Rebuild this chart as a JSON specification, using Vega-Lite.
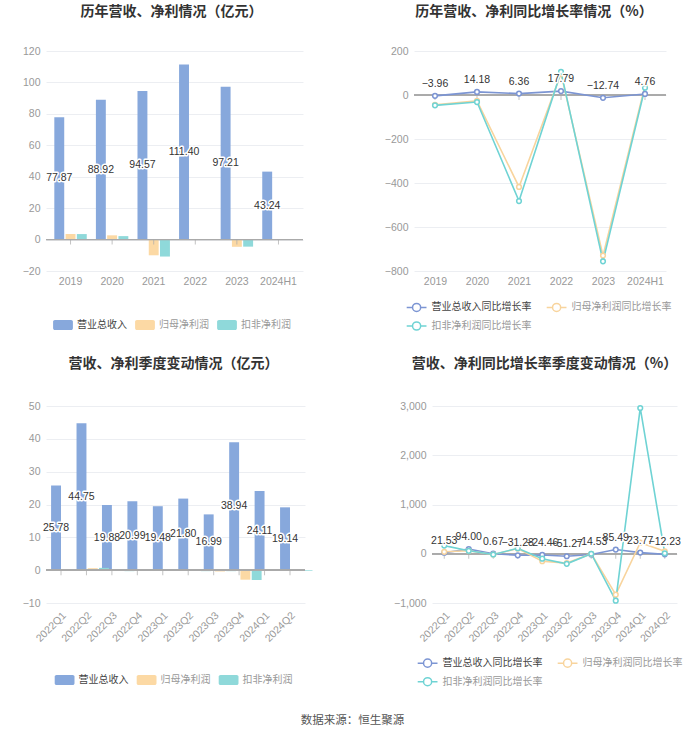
{
  "$schema": "https://vega.github.io/schema/vega-lite/v6.json",
  "background": "white",
  "padding": {"left": 22, "top": 5, "right": 8, "bottom": 8},
  "config": {
    "font": "Liberation Sans, Noto Sans CJK SC",
    "view": {"stroke": null},
    "title": {"font": "Noto Sans CJK SC", "fontSize": 14, "fontWeight": "bold", "color": "#333333", "anchor": "middle"},
    "axis": {"labelFont": "Liberation Sans, Noto Sans CJK SC", "labelFontSize": 10.5, "labelColor": "#999999", "ticks": false, "domain": false, "title": null, "gridColor": "#eceef2", "gridWidth": 1, "labelOverlap": false},
    "axisX": {"grid": false, "labelPadding": 5},
    "axisY": {"labelPadding": 6},
    "legend": {"labelFont": "Noto Sans CJK SC", "labelFontSize": 10, "labelColor": "#666666", "title": null, "orient": "none", "direction": "horizontal", "labelOffset": 5}
  },
  "title": {"text": "数据来源：恒生聚源", "orient": "bottom", "font": "Noto Sans CJK SC", "fontSize": 11.5, "fontWeight": "normal", "color": "#555555", "offset": 25},
  "datasets": {
    "annual": [
      {"year": "2019", "series": "营业总收入", "value": 77.87},
      {"year": "2020", "series": "营业总收入", "value": 88.92},
      {"year": "2021", "series": "营业总收入", "value": 94.57},
      {"year": "2022", "series": "营业总收入", "value": 111.40},
      {"year": "2023", "series": "营业总收入", "value": 97.21},
      {"year": "2024H1", "series": "营业总收入", "value": 43.24},
      {"year": "2019", "series": "归母净利润", "value": 3.6},
      {"year": "2020", "series": "归母净利润", "value": 2.7},
      {"year": "2021", "series": "归母净利润", "value": -10.0},
      {"year": "2022", "series": "归母净利润", "value": -0.3},
      {"year": "2023", "series": "归母净利润", "value": -4.6},
      {"year": "2024H1", "series": "归母净利润", "value": 0.1},
      {"year": "2019", "series": "扣非净利润", "value": 3.5},
      {"year": "2020", "series": "扣非净利润", "value": 2.2},
      {"year": "2021", "series": "扣非净利润", "value": -10.8},
      {"year": "2022", "series": "扣非净利润", "value": -0.1},
      {"year": "2023", "series": "扣非净利润", "value": -4.5},
      {"year": "2024H1", "series": "扣非净利润", "value": -0.1}
    ],
    "annualGrowth": [
      {"year": "2019", "series": "营业总收入同比增长率", "value": -3.96},
      {"year": "2020", "series": "营业总收入同比增长率", "value": 14.18},
      {"year": "2021", "series": "营业总收入同比增长率", "value": 6.36},
      {"year": "2022", "series": "营业总收入同比增长率", "value": 17.79},
      {"year": "2023", "series": "营业总收入同比增长率", "value": -12.74},
      {"year": "2024H1", "series": "营业总收入同比增长率", "value": 4.76},
      {"year": "2019", "series": "归母净利润同比增长率", "value": -45},
      {"year": "2020", "series": "归母净利润同比增长率", "value": -27},
      {"year": "2021", "series": "归母净利润同比增长率", "value": -418},
      {"year": "2022", "series": "归母净利润同比增长率", "value": 97},
      {"year": "2023", "series": "归母净利润同比增长率", "value": -730},
      {"year": "2024H1", "series": "归母净利润同比增长率", "value": 42},
      {"year": "2019", "series": "扣非净利润同比增长率", "value": -47},
      {"year": "2020", "series": "扣非净利润同比增长率", "value": -32},
      {"year": "2021", "series": "扣非净利润同比增长率", "value": -482},
      {"year": "2022", "series": "扣非净利润同比增长率", "value": 105},
      {"year": "2023", "series": "扣非净利润同比增长率", "value": -756},
      {"year": "2024H1", "series": "扣非净利润同比增长率", "value": 33}
    ],
    "quarter": [
      {"q": "2022Q1", "series": "营业总收入", "value": 25.78},
      {"q": "2022Q2", "series": "营业总收入", "value": 44.75},
      {"q": "2022Q3", "series": "营业总收入", "value": 19.88},
      {"q": "2022Q4", "series": "营业总收入", "value": 20.99},
      {"q": "2023Q1", "series": "营业总收入", "value": 19.48},
      {"q": "2023Q2", "series": "营业总收入", "value": 21.80},
      {"q": "2023Q3", "series": "营业总收入", "value": 16.99},
      {"q": "2023Q4", "series": "营业总收入", "value": 38.94},
      {"q": "2024Q1", "series": "营业总收入", "value": 24.11},
      {"q": "2024Q2", "series": "营业总收入", "value": 19.14},
      {"q": "2022Q1", "series": "归母净利润", "value": 0.1},
      {"q": "2022Q2", "series": "归母净利润", "value": 0.6},
      {"q": "2022Q3", "series": "归母净利润", "value": -0.2},
      {"q": "2022Q4", "series": "归母净利润", "value": 0.2},
      {"q": "2023Q1", "series": "归母净利润", "value": 0.05},
      {"q": "2023Q2", "series": "归母净利润", "value": -0.2},
      {"q": "2023Q3", "series": "归母净利润", "value": -0.4},
      {"q": "2023Q4", "series": "归母净利润", "value": -2.9},
      {"q": "2024Q1", "series": "归母净利润", "value": 0.05},
      {"q": "2024Q2", "series": "归母净利润", "value": -0.1},
      {"q": "2022Q1", "series": "扣非净利润", "value": 0.2},
      {"q": "2022Q2", "series": "扣非净利润", "value": 0.7},
      {"q": "2022Q3", "series": "扣非净利润", "value": -0.3},
      {"q": "2022Q4", "series": "扣非净利润", "value": 0.3},
      {"q": "2023Q1", "series": "扣非净利润", "value": 0.0},
      {"q": "2023Q2", "series": "扣非净利润", "value": -0.3},
      {"q": "2023Q3", "series": "扣非净利润", "value": -0.3},
      {"q": "2023Q4", "series": "扣非净利润", "value": -3.0},
      {"q": "2024Q1", "series": "扣非净利润", "value": 0.1},
      {"q": "2024Q2", "series": "扣非净利润", "value": -0.2}
    ],
    "quarterGrowth": [
      {"q": "2022Q1", "series": "营业总收入同比增长率", "value": 21.53},
      {"q": "2022Q2", "series": "营业总收入同比增长率", "value": 94.00},
      {"q": "2022Q3", "series": "营业总收入同比增长率", "value": 0.67},
      {"q": "2022Q4", "series": "营业总收入同比增长率", "value": -31.28},
      {"q": "2023Q1", "series": "营业总收入同比增长率", "value": -24.46},
      {"q": "2023Q2", "series": "营业总收入同比增长率", "value": -51.27},
      {"q": "2023Q3", "series": "营业总收入同比增长率", "value": -14.53},
      {"q": "2023Q4", "series": "营业总收入同比增长率", "value": 85.49},
      {"q": "2024Q1", "series": "营业总收入同比增长率", "value": 23.77},
      {"q": "2024Q2", "series": "营业总收入同比增长率", "value": -12.23},
      {"q": "2022Q1", "series": "归母净利润同比增长率", "value": 40},
      {"q": "2022Q2", "series": "归母净利润同比增长率", "value": 60},
      {"q": "2022Q3", "series": "归母净利润同比增长率", "value": -15},
      {"q": "2022Q4", "series": "归母净利润同比增长率", "value": 105},
      {"q": "2023Q1", "series": "归母净利润同比增长率", "value": -150},
      {"q": "2023Q2", "series": "归母净利润同比增长率", "value": -190},
      {"q": "2023Q3", "series": "归母净利润同比增长率", "value": 0},
      {"q": "2023Q4", "series": "归母净利润同比增长率", "value": -830},
      {"q": "2024Q1", "series": "归母净利润同比增长率", "value": 224},
      {"q": "2024Q2", "series": "归母净利润同比增长率", "value": 50},
      {"q": "2022Q1", "series": "扣非净利润同比增长率", "value": 165},
      {"q": "2022Q2", "series": "扣非净利润同比增长率", "value": 60},
      {"q": "2022Q3", "series": "扣非净利润同比增长率", "value": -15},
      {"q": "2022Q4", "series": "扣非净利润同比增长率", "value": 112},
      {"q": "2023Q1", "series": "扣非净利润同比增长率", "value": -100},
      {"q": "2023Q2", "series": "扣非净利润同比增长率", "value": -204},
      {"q": "2023Q3", "series": "扣非净利润同比增长率", "value": 0},
      {"q": "2023Q4", "series": "扣非净利润同比增长率", "value": -952},
      {"q": "2024Q1", "series": "扣非净利润同比增长率", "value": 2960},
      {"q": "2024Q2", "series": "扣非净利润同比增长率", "value": 10}
    ]
  },
  "resolve": {"scale": {"color": "independent", "stroke": "independent", "x": "independent", "y": "independent"}, "legend": {"color": "independent"}},
  "spacing": 23,
  "vconcat": [
    {
      "spacing": 80,
      "resolve": {"scale": {"color": "independent", "stroke": "independent", "x": "independent", "y": "independent"}, "legend": {"color": "independent"}},
      "hconcat": [
        {
          "width": 257, "height": 220,
          "title": {"text": "历年营收、净利情况（亿元）", "offset": 27, "dx": -3},
          "data": {"name": "annual"},
          "resolve": {"scale": {"y": "independent"}},
          "layer": [
            {
              "encoding": {
                "y": {"field": "value", "type": "quantitative", "scale": {"domain": [-20, 120], "nice": false}, "axis": {"values": [-20, 0, 20, 40, 60, 80, 100, 120], "grid": true, "labelOverlap": false}}
              },
              "layer": [
                {
                  "mark": {"type": "bar"},
                  "encoding": {
                    "x": {"field": "year", "type": "nominal", "sort": null, "scale": {"paddingInner": 0.22}, "axis": {"labelAngle": 0}},
                    "xOffset": {"field": "series", "type": "nominal", "sort": ["营业总收入", "归母净利润", "扣非净利润"], "scale": {"paddingInner": 0.12}},
                    "color": {"field": "series", "type": "nominal", "sort": ["营业总收入", "归母净利润", "扣非净利润"],
                      "scale": {"domain": ["营业总收入", "归母净利润", "扣非净利润"], "range": ["#87a8dc", "#fcd9a4", "#8fd9da"]},
                      "legend": {"legendX": 8, "legendY": 265, "symbolType": "M-0.9,-0.55 H0.9 A0.2,0.2 0 0 1 1.1,-0.35 V0.35 A0.2,0.2 0 0 1 0.9,0.55 H-0.9 A0.2,0.2 0 0 1 -1.1,0.35 V-0.35 A0.2,0.2 0 0 1 -0.9,-0.55 Z", "symbolSize": 324, "symbolStrokeWidth": 0, "columnPadding": 8,
                        "encode": {"labels": {"update": {"fill": {"signal": "datum.value === '营业总收入' ? '#444444' : '#999999'"}}}}}}
                  }
                },
                {"transform": [{"filter": "datum.series === '营业总收入'"}], "mark": {"type": "rule", "color": "#aaaaaa"}, "encoding": {"y": {"datum": 0, "type": "quantitative"}}},
                {
                  "transform": [{"filter": "datum.series === '营业总收入'"}],
                  "mark": {"type": "tick", "orient": "vertical", "size": 5, "thickness": 1, "color": "#aaaaaa", "yOffset": 2.5},
                  "encoding": {"x": {"field": "year", "type": "nominal", "sort": null}, "y": {"datum": 0, "type": "quantitative"}}
                }
              ]
            },
            {
              "transform": [{"filter": "datum.series === '营业总收入'"}],
              "encoding": {
                "x": {"field": "year", "type": "nominal", "sort": null},
                "xOffset": {"field": "series", "type": "nominal", "sort": ["营业总收入", "归母净利润", "扣非净利润"]},
                "y": {"field": "value", "type": "quantitative", "scale": {"domain": [-40, 240], "nice": false}, "axis": null},
                "text": {"field": "value", "type": "quantitative", "format": ".2f"}
              },
              "layer": [
                {"mark": {"type": "text", "fontSize": 10.5, "fill": "white", "stroke": "white", "strokeWidth": 3, "strokeJoin": "round"}},
                {"mark": {"type": "text", "fontSize": 10.5, "fill": "#333333"}}
              ]
            }
          ]
        },
        {
          "width": 252, "height": 220,
          "title": {"text": "历年营收、净利同比增长率情况（%）", "offset": 27, "dx": -6},
          "data": {"name": "annualGrowth"},
          "encoding": {
            "x": {"field": "year", "type": "nominal", "sort": null, "scale": {"type": "point", "padding": 0.5}, "axis": {"labelAngle": 0}},
            "y": {"field": "value", "type": "quantitative", "scale": {"domain": [-800, 200], "nice": false}, "axis": {"values": [-800, -600, -400, -200, 0, 200], "grid": true}}
          },
          "layer": [
            {"mark": {"type": "rule", "color": "#aaaaaa"}, "encoding": {"x": null, "y": {"datum": 0}}},
            {
              "transform": [{"filter": "datum.series === '营业总收入同比增长率'"}],
              "mark": {"type": "tick", "orient": "vertical", "size": 5, "thickness": 1, "color": "#aaaaaa", "yOffset": 2.5},
              "encoding": {"y": {"datum": 0}}
            },
            {
              "mark": {"type": "line", "strokeWidth": 1.6},
              "encoding": {
                "color": {"field": "series", "type": "nominal", "sort": null,
                  "scale": {"domain": ["营业总收入同比增长率", "归母净利润同比增长率", "扣非净利润同比增长率"], "range": ["#7c95d3", "#f8d49d", "#6fd3d4"]},
                  "legend": {"legendX": -7.4, "legendY": 246, "columns": 2, "symbolType": "M-1.1,0 H-0.45 M0.45,0 H1.1 M0.45,0 A0.45,0.45 0 1 1 -0.45,0 A0.45,0.45 0 1 1 0.45,0", "symbolSize": 324, "symbolStrokeWidth": 1.5, "columnPadding": 12, "rowPadding": 1,
                    "encode": {"symbols": {"update": {"fill": {"value": "white"}}}, "labels": {"update": {"fill": {"signal": "datum.value === '营业总收入同比增长率' ? '#444444' : '#999999'"}}}}}
                }
              }
            },
            {
              "mark": {"type": "point", "filled": true, "fill": "white", "size": 22, "strokeWidth": 1.5, "opacity": 1},
              "encoding": {
                "stroke": {"field": "series", "type": "nominal", "scale": {"domain": ["营业总收入同比增长率", "归母净利润同比增长率", "扣非净利润同比增长率"], "range": ["#7c95d3", "#f8d49d", "#6fd3d4"]}, "legend": null}
              }
            },
            {
              "transform": [{"filter": "datum.series === '营业总收入同比增长率'"}],
              "encoding": {"text": {"field": "value", "type": "quantitative", "format": ".2f"}},
              "layer": [
                {"mark": {"type": "text", "fontSize": 10.5, "dy": -12, "fill": "white", "stroke": "white", "strokeWidth": 3, "strokeJoin": "round"}},
                {"mark": {"type": "text", "fontSize": 10.5, "dy": -12, "fill": "#333333"}}
              ]
            }
          ]
        }
      ]
    },
    {
      "spacing": 80,
      "resolve": {"scale": {"color": "independent", "stroke": "independent", "x": "independent", "y": "independent"}, "legend": {"color": "independent"}},
      "hconcat": [
        {
          "width": 259, "height": 197,
          "title": {"text": "营收、净利季度变动情况（亿元）", "offset": 30, "dx": -2},
          "data": {"name": "quarter"},
          "resolve": {"scale": {"y": "independent"}},
          "layer": [
            {
              "encoding": {
                "y": {"field": "value", "type": "quantitative", "scale": {"domain": [-10, 50], "nice": false}, "axis": {"values": [-10, 0, 10, 20, 30, 40, 50], "grid": true, "labelOverlap": false}}
              },
              "layer": [
                {
                  "mark": {"type": "bar"},
                  "encoding": {
                    "x": {"field": "q", "type": "nominal", "sort": null, "scale": {"paddingInner": 0.22}, "axis": {"labelAngle": -45, "labelPadding": 7}},
                    "xOffset": {"field": "series", "type": "nominal", "sort": ["营业总收入", "归母净利润", "扣非净利润"], "scale": {"paddingInner": 0.15}},
                    "color": {"field": "series", "type": "nominal", "sort": ["营业总收入", "归母净利润", "扣非净利润"],
                      "scale": {"domain": ["营业总收入", "归母净利润", "扣非净利润"], "range": ["#87a8dc", "#fcd9a4", "#8fd9da"]},
                      "legend": {"legendX": 9.6, "legendY": 265, "symbolType": "M-0.9,-0.55 H0.9 A0.2,0.2 0 0 1 1.1,-0.35 V0.35 A0.2,0.2 0 0 1 0.9,0.55 H-0.9 A0.2,0.2 0 0 1 -1.1,0.35 V-0.35 A0.2,0.2 0 0 1 -0.9,-0.55 Z", "symbolSize": 324, "symbolStrokeWidth": 0, "columnPadding": 8,
                        "encode": {"labels": {"update": {"fill": {"signal": "datum.value === '营业总收入' ? '#444444' : '#999999'"}}}}}}
                  }
                },
                {"transform": [{"filter": "datum.series === '营业总收入'"}], "mark": {"type": "rule", "color": "#aaaaaa"}, "encoding": {"y": {"datum": 0, "type": "quantitative"}}},
                {
                  "transform": [{"filter": "datum.series === '营业总收入'"}],
                  "mark": {"type": "tick", "orient": "vertical", "size": 5, "thickness": 1, "color": "#aaaaaa", "yOffset": 2.5},
                  "encoding": {"x": {"field": "q", "type": "nominal", "sort": null}, "y": {"datum": 0, "type": "quantitative"}}
                }
              ]
            },
            {
              "transform": [{"filter": "datum.series === '营业总收入'"}],
              "encoding": {
                "x": {"field": "q", "type": "nominal", "sort": null},
                "xOffset": {"field": "series", "type": "nominal", "sort": ["营业总收入", "归母净利润", "扣非净利润"]},
                "y": {"field": "value", "type": "quantitative", "scale": {"domain": [-20, 100], "nice": false}, "axis": null},
                "text": {"field": "value", "type": "quantitative", "format": ".2f"}
              },
              "layer": [
                {"mark": {"type": "text", "fontSize": 10.5, "fill": "white", "stroke": "white", "strokeWidth": 3, "strokeJoin": "round"}},
                {"mark": {"type": "text", "fontSize": 10.5, "fill": "#333333"}}
              ]
            }
          ]
        },
        {
          "width": 245, "height": 197,
          "title": {"text": "营收、净利同比增长率季度变动情况（%）", "offset": 30, "dx": -10},
          "data": {"name": "quarterGrowth"},
          "encoding": {
            "x": {"field": "q", "type": "nominal", "sort": null, "scale": {"type": "point", "padding": 0.5}, "axis": {"labelAngle": -45, "labelPadding": 7}},
            "y": {"field": "value", "type": "quantitative", "scale": {"domain": [-1000, 3000], "nice": false}, "axis": {"values": [-1000, 0, 1000, 2000, 3000], "format": ",d", "grid": true}}
          },
          "layer": [
            {"mark": {"type": "rule", "color": "#aaaaaa"}, "encoding": {"x": null, "y": {"datum": 0}}},
            {
              "transform": [{"filter": "datum.series === '营业总收入同比增长率'"}],
              "mark": {"type": "tick", "orient": "vertical", "size": 5, "thickness": 1, "color": "#aaaaaa", "yOffset": 2.5},
              "encoding": {"y": {"datum": 0}}
            },
            {
              "mark": {"type": "line", "strokeWidth": 1.6},
              "encoding": {
                "color": {"field": "series", "type": "nominal", "sort": null,
                  "scale": {"domain": ["营业总收入同比增长率", "归母净利润同比增长率", "扣非净利润同比增长率"], "range": ["#7c95d3", "#f8d49d", "#6fd3d4"]},
                  "legend": {"legendX": -14.4, "legendY": 246.7, "columns": 2, "symbolType": "M-1.1,0 H-0.45 M0.45,0 H1.1 M0.45,0 A0.45,0.45 0 1 1 -0.45,0 A0.45,0.45 0 1 1 0.45,0", "symbolSize": 324, "symbolStrokeWidth": 1.5, "columnPadding": 12, "rowPadding": 1,
                    "encode": {"symbols": {"update": {"fill": {"value": "white"}}}, "labels": {"update": {"fill": {"signal": "datum.value === '营业总收入同比增长率' ? '#444444' : '#999999'"}}}}}
                }
              }
            },
            {
              "mark": {"type": "point", "filled": true, "fill": "white", "size": 22, "strokeWidth": 1.5, "opacity": 1},
              "encoding": {
                "stroke": {"field": "series", "type": "nominal", "scale": {"domain": ["营业总收入同比增长率", "归母净利润同比增长率", "扣非净利润同比增长率"], "range": ["#7c95d3", "#f8d49d", "#6fd3d4"]}, "legend": null}
              }
            },
            {
              "transform": [{"filter": "datum.series === '营业总收入同比增长率'"}],
              "encoding": {"text": {"field": "value", "type": "quantitative", "format": ".2f"}},
              "layer": [
                {"mark": {"type": "text", "fontSize": 10.5, "dy": -12, "fill": "white", "stroke": "white", "strokeWidth": 3, "strokeJoin": "round"}},
                {"mark": {"type": "text", "fontSize": 10.5, "dy": -12, "fill": "#333333"}}
              ]
            }
          ]
        }
      ]
    }
  ]
}
